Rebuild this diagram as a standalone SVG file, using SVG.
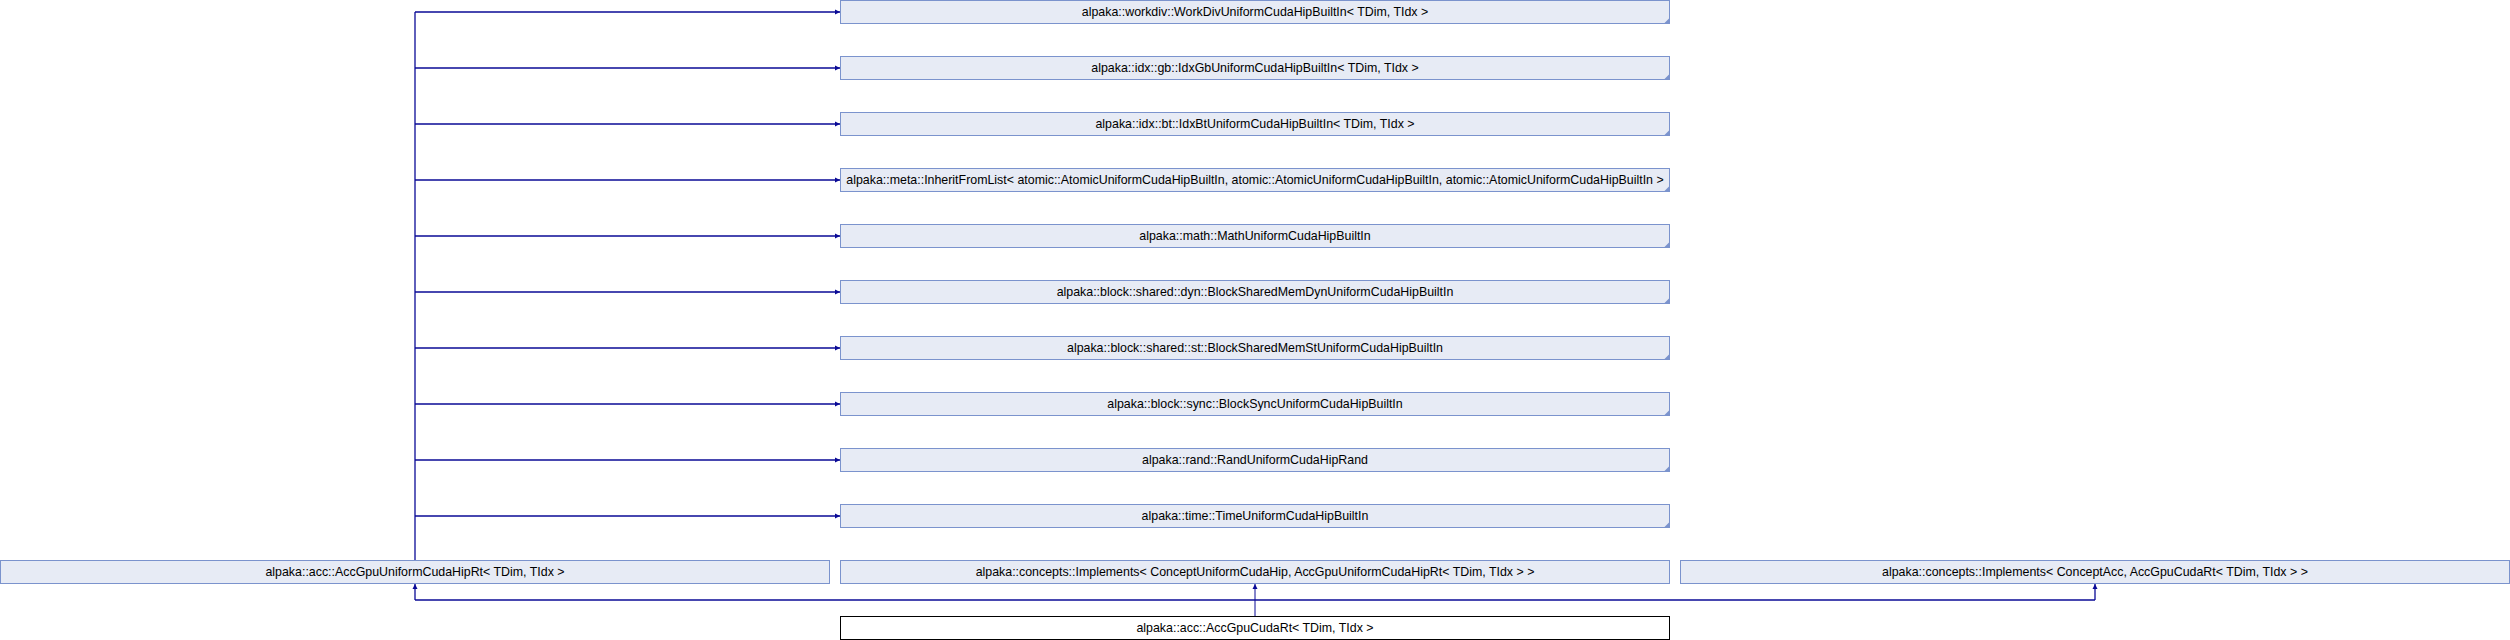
<svg xmlns="http://www.w3.org/2000/svg" width="2510" height="640" viewBox="0 0 2510 640">
<style>
.n rect{fill:#e7ebf5;stroke:#7b93cd;stroke-width:1}
.n.w rect{fill:#ffffff;stroke:#000000}
.n text{font-family:"Liberation Sans",Arial,sans-serif;font-size:12.4px;fill:#000000;text-anchor:middle}
.n path{fill:#7b93cd}
.e path{fill:none;stroke:#0a0a96;stroke-width:1.3}
.e path.thin{stroke-width:1}
</style>
<defs>
<marker id="ah" markerWidth="6" markerHeight="6" refX="5" refY="3" orient="auto" markerUnits="userSpaceOnUse">
<path d="M0,0.5 L5,3 L0,5.5 Z" fill="#0a0a96" stroke="none"/>
</marker>
</defs>
<rect width="2510" height="640" fill="#ffffff"/>
<g id="connectors" class="e">
<path d="M415,560 V12"/>
<path d="M415,12 H840" marker-end="url(#ah)"/>
<path d="M415,68 H840" marker-end="url(#ah)"/>
<path d="M415,124 H840" marker-end="url(#ah)"/>
<path d="M415,180 H840" marker-end="url(#ah)"/>
<path d="M415,236 H840" marker-end="url(#ah)"/>
<path d="M415,292 H840" marker-end="url(#ah)"/>
<path d="M415,348 H840" marker-end="url(#ah)"/>
<path d="M415,404 H840" marker-end="url(#ah)"/>
<path d="M415,460 H840" marker-end="url(#ah)"/>
<path d="M415,516 H840" marker-end="url(#ah)"/>
<path d="M415,600 H2095"/>
<path d="M415,600 V584" marker-end="url(#ah)"/>
<path d="M2095,600 V584" marker-end="url(#ah)"/>
<path class="thin" d="M1255,616 V584" marker-end="url(#ah)"/>
</g>
<g id="n0" class="n"><rect x="840.5" y="0.5" width="829" height="23"/><path d="M1669.5,18 V23.5 H1664 Z"/><text x="1255" y="16">alpaka::workdiv::WorkDivUniformCudaHipBuiltIn&lt; TDim, TIdx &gt;</text></g>
<g id="n1" class="n"><rect x="840.5" y="56.5" width="829" height="23"/><path d="M1669.5,74 V79.5 H1664 Z"/><text x="1255" y="72">alpaka::idx::gb::IdxGbUniformCudaHipBuiltIn&lt; TDim, TIdx &gt;</text></g>
<g id="n2" class="n"><rect x="840.5" y="112.5" width="829" height="23"/><path d="M1669.5,130 V135.5 H1664 Z"/><text x="1255" y="128">alpaka::idx::bt::IdxBtUniformCudaHipBuiltIn&lt; TDim, TIdx &gt;</text></g>
<g id="n3" class="n"><rect x="840.5" y="168.5" width="829" height="23"/><path d="M1669.5,186 V191.5 H1664 Z"/><text x="1255" y="184">alpaka::meta::InheritFromList&lt; atomic::AtomicUniformCudaHipBuiltIn, atomic::AtomicUniformCudaHipBuiltIn, atomic::AtomicUniformCudaHipBuiltIn &gt;</text></g>
<g id="n4" class="n"><rect x="840.5" y="224.5" width="829" height="23"/><path d="M1669.5,242 V247.5 H1664 Z"/><text x="1255" y="240">alpaka::math::MathUniformCudaHipBuiltIn</text></g>
<g id="n5" class="n"><rect x="840.5" y="280.5" width="829" height="23"/><path d="M1669.5,298 V303.5 H1664 Z"/><text x="1255" y="296">alpaka::block::shared::dyn::BlockSharedMemDynUniformCudaHipBuiltIn</text></g>
<g id="n6" class="n"><rect x="840.5" y="336.5" width="829" height="23"/><path d="M1669.5,354 V359.5 H1664 Z"/><text x="1255" y="352">alpaka::block::shared::st::BlockSharedMemStUniformCudaHipBuiltIn</text></g>
<g id="n7" class="n"><rect x="840.5" y="392.5" width="829" height="23"/><path d="M1669.5,410 V415.5 H1664 Z"/><text x="1255" y="408">alpaka::block::sync::BlockSyncUniformCudaHipBuiltIn</text></g>
<g id="n8" class="n"><rect x="840.5" y="448.5" width="829" height="23"/><path d="M1669.5,466 V471.5 H1664 Z"/><text x="1255" y="464">alpaka::rand::RandUniformCudaHipRand</text></g>
<g id="n9" class="n"><rect x="840.5" y="504.5" width="829" height="23"/><path d="M1669.5,522 V527.5 H1664 Z"/><text x="1255" y="520">alpaka::time::TimeUniformCudaHipBuiltIn</text></g>
<g id="n10" class="n"><rect x="0.5" y="560.5" width="829" height="23"/><text x="415" y="576">alpaka::acc::AccGpuUniformCudaHipRt&lt; TDim, TIdx &gt;</text></g>
<g id="n11" class="n"><rect x="840.5" y="560.5" width="829" height="23"/><text x="1255" y="576">alpaka::concepts::Implements&lt; ConceptUniformCudaHip, AccGpuUniformCudaHipRt&lt; TDim, TIdx &gt; &gt;</text></g>
<g id="n12" class="n"><rect x="1680.5" y="560.5" width="829" height="23"/><text x="2095" y="576">alpaka::concepts::Implements&lt; ConceptAcc, AccGpuCudaRt&lt; TDim, TIdx &gt; &gt;</text></g>
<g id="n13" class="n w"><rect x="840.5" y="616.5" width="829" height="23"/><text x="1255" y="632">alpaka::acc::AccGpuCudaRt&lt; TDim, TIdx &gt;</text></g>
</svg>
